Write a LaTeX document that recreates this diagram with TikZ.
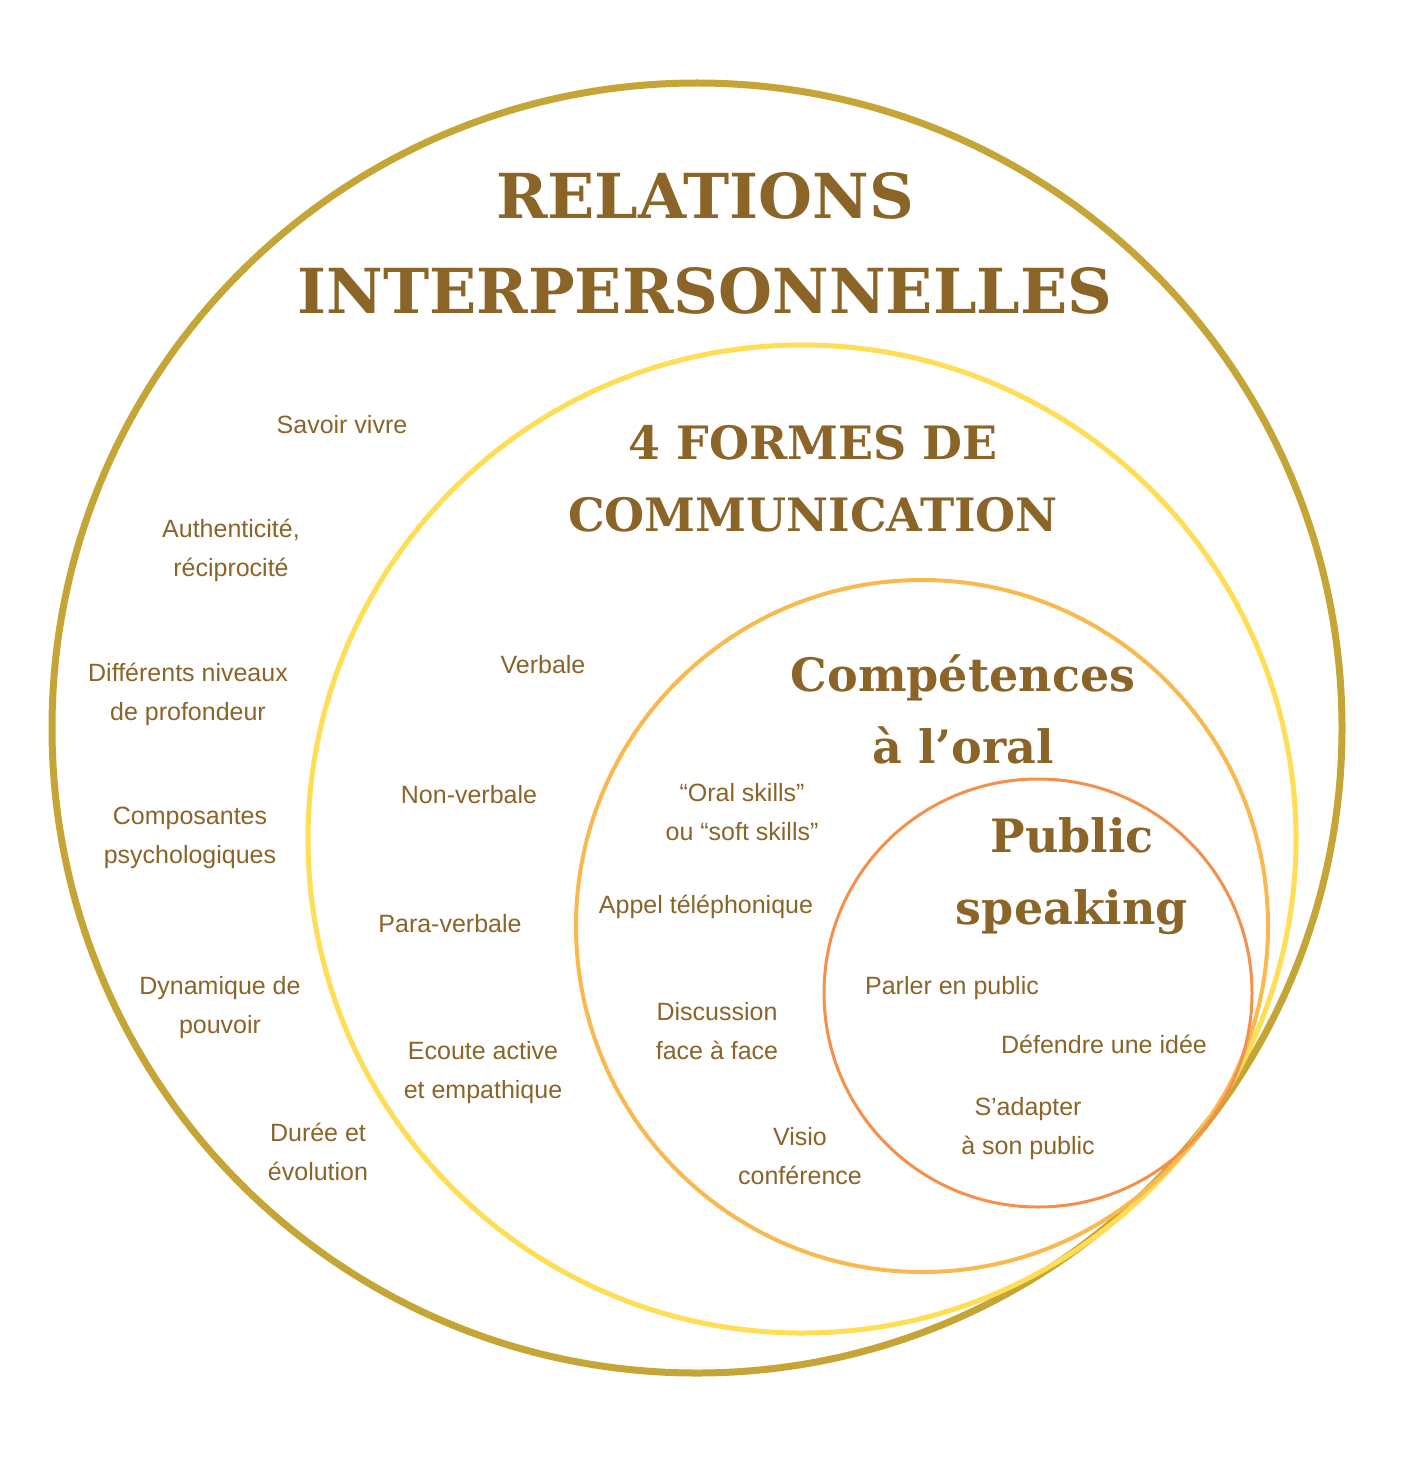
\documentclass[tikz,border=0pt]{standalone}
\usepackage{fontspec}
\setmainfont{Liberation Sans}
\newfontfamily\titlefont{DejaVu Serif}
\definecolor{txt}{HTML}{8B6428}
\definecolor{c1}{HTML}{C4A535}
\definecolor{c2}{HTML}{FFDD55}
\definecolor{c3}{HTML}{F9B94F}
\definecolor{c4}{HTML}{F5904A}
\tikzset{
  lbl/.style={text=txt, align=center, font=\fontsize{25}{39}\selectfont},
  big/.style={text=txt, align=center, font=\titlefont\bfseries\fontsize{62}{95}\selectfont},
  mid/.style={text=txt, align=center, font=\titlefont\bfseries\fontsize{46}{72}\selectfont}
}
\begin{document}
\begin{tikzpicture}[x=1pt,y=-1pt]
\useasboundingbox (0,0) rectangle (1414,1479);
\fill[white] (0,0) rectangle (1414,1479);
\draw[c1, line width=7pt] (697,728) circle[radius=645pt];
\draw[c2, line width=5pt] (802,839) circle[radius=494pt];
\draw[c3, line width=4pt] (922,926) circle[radius=346pt];
\draw[c4, line width=3pt] (1038,993) circle[radius=214pt];
\node[big] (t1) at (705,243) {RELATIONS\\INTERPERSONNELLES};
\node[mid] (t2) at (813,479) {4 FORMES DE\\COMMUNICATION};
\node[mid] (t3) at (963,709) {Compétences\\à l’oral};
\node[mid] (t4) at (1072,876) {Public\\speaking};
\node[lbl] (a1) at (342,425) {Savoir vivre};
\node[lbl] (a2) at (231,550) {Authenticité,\\réciprocité};
\node[lbl] (a3) at (188,694) {Différents niveaux\\de profondeur};
\node[lbl] (a4) at (190,838) {Composantes\\psychologiques};
\node[lbl] (a5) at (220,1008) {Dynamique de\\pouvoir};
\node[lbl] (a6) at (318,1152) {Durée et\\évolution};
\node[lbl] (b1) at (543,665) {Verbale};
\node[lbl] (b2) at (469,795) {Non-verbale};
\node[lbl] (b3) at (450,924) {Para-verbale};
\node[lbl] (b4) at (483,1073) {Ecoute active\\et empathique};
\node[lbl] (c1n) at (742,812) {“Oral skills”\\ou “soft skills”};
\node[lbl] (c2n) at (706,907) {Appel téléphonique};
\node[lbl] (c3n) at (717,1031) {Discussion\\face à face};
\node[lbl] (c4n) at (800,1156) {Visio\\conférence};
\node[lbl] (d1) at (952,988) {Parler en public};
\node[lbl] (d2) at (1104,1044) {Défendre une idée};
\node[lbl] (d3) at (1028,1129) {S’adapter\\à son public};
\end{tikzpicture}
\end{document}
